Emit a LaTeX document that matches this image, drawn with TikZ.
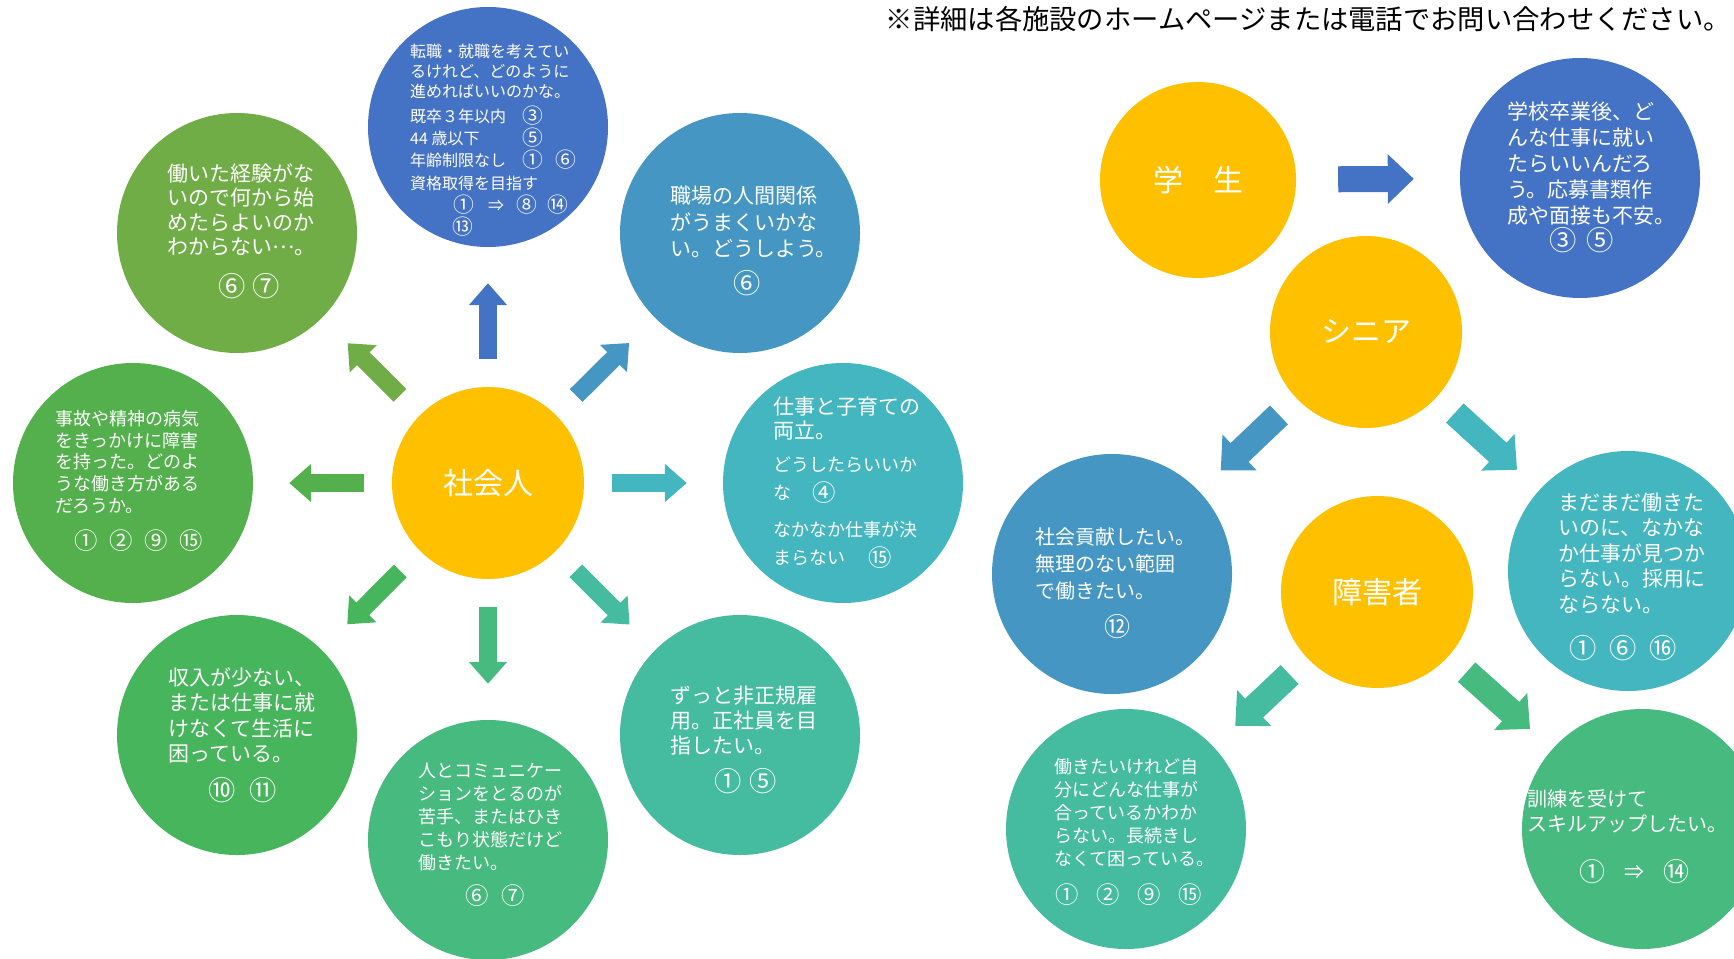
\documentclass[tikz,border=0pt]{standalone}
\usepackage{fontspec}
\setmainfont{Noto Sans CJK JP}
\usetikzlibrary{arrows.meta}
\definecolor{cYel}{HTML}{FFC000}
\definecolor{cBlue}{HTML}{4472C4}
\definecolor{cSky}{HTML}{4596C3}
\definecolor{cLeaf}{HTML}{70AD47}
\definecolor{cGrass}{HTML}{54B04C}
\definecolor{cGreen}{HTML}{47B55B}
\definecolor{cMint}{HTML}{47BA7F}
\definecolor{cSea}{HTML}{45BBA0}
\definecolor{cTeal}{HTML}{44B6BF}
\newcommand\jpfs[2]{\fontsize{#1pt}{#2pt}\selectfont}
\newcommand\cn[1]{\makebox[1em][c]{\raisebox{-0.1em}{\scalebox{1.3}{#1}}}}
\tikzset{
  hub/.style={circle, fill=cYel, minimum size=192pt, inner sep=0pt, text=white, font=\jpfs{30}{36}},
  bub/.style={circle, minimum size=240pt, inner sep=0pt},
  say/.style={text=white, align=left, anchor=west, inner sep=0pt},
  blk/.style={line width=18pt, -{Triangle[width=37pt,length=22pt]}, shorten <=28pt, shorten >=36pt},
  bigblk/.style={line width=26pt, -{Triangle[width=48pt,length=26pt]}, shorten <=24pt, shorten >=30pt},
}
\begin{document}
\begin{tikzpicture}[x=1pt,y=-1pt]
  \clip (0,0) rectangle (1734,958);
  % circles
  \foreach \n/\c/\x/\y in {tenshoku/cBlue/488/127, hataraku/cLeaf/237/233, shokuba/cSky/740/233,
      jiko/cGrass/133/483, shigoto/cTeal/843/483, shunyu/cGreen/237/735, hitoto/cMint/488/840,
      zutto/cSea/740/735, gakko/cBlue/1580/178, koken/cSky/1112/574, madamada/cTeal/1628/571,
      hatarakitai/cSea/1126/829, kunren/cMint/1642/829}
    \node[bub, fill=\c] (\n) at (\x,\y) {};
  \node[hub] (shakai) at (488,483) {社会人};
  \node[hub, minimum size=196pt] (gakusei) at (1198,180) {学　生};
  \node[hub] (senior) at (1366,332) {シニア};
  \node[hub] (shogai) at (1377,592) {障害者};
  % arrows
  \foreach \dst/\c in {tenshoku/cBlue, shokuba/cSky, shigoto/cTeal, zutto/cSea,
      hitoto/cMint, shunyu/cGreen, jiko/cGrass, hataraku/cLeaf}
    \draw[blk, \c] (shakai) -- (\dst);
  \draw[bigblk, cBlue, shorten <=42pt, shorten >=46pt] (gakusei) -- (gakko);
  \foreach \dst/\c in {koken/cSky, madamada/cTeal}
    \draw[bigblk, \c] (senior) -- (\dst);
  \foreach \dst/\c in {hatarakitai/cSea, kunren/cMint}
    \draw[bigblk, \c] (shogai) -- (\dst);
  % texts
  \node[say, font=\jpfs{16}{22}] (tenshokuT) at (410,140) {転職・就職を考えてい\\[-2pt]るけれど、どのように\\[-2pt]進めればいいのかな。\\[3pt]\makebox[115pt][l]{既卒３年以内}\cn{③}\\\makebox[115pt][l]{44 歳以下}\cn{⑤}\\\makebox[115pt][l]{年齢制限なし}\cn{①}\hspace{17pt}\cn{⑥}\\[1pt]資格取得を目指す\\\hspace*{46pt}\cn{①}\hspace{16pt}⇒\hspace{15pt}\cn{⑧}\hspace{15pt}\cn{⑭}\\\hspace*{45pt}\cn{⑬}};
  \node[say, font=\jpfs{21}{24.5}] (hatarakuT) at (167,231) {働いた経験がな\\いので何から始\\めたらよいのか\\わからない\raisebox{0.3em}{…}。\\[15pt]\hspace*{54pt}\cn{⑥}\hspace{13pt}\cn{⑦}};
  \node[say, font=\jpfs{21}{26.5}] (shokubaT) at (670,241) {職場の人間関係\\がうまくいかな\\い。どうしよう。\\[8pt]\hspace*{66pt}\cn{⑥}};
  \node[say, font=\jpfs{18}{21.7}] (jikoT) at (55,481) {事故や精神の病気\\をきっかけに障害\\を持った。どのよ\\うな働き方がある\\だろうか。\\[14pt]\hspace*{22pt}\cn{①}\hspace{17pt}\cn{②}\hspace{17pt}\cn{⑨}\hspace{17pt}\cn{⑮}};
  \node[say, font=\jpfs{18}{28}] (shigotoT) at (773,483) {{\jpfs{21}{26}仕事と子育ての}\\[-4pt]{\jpfs{21}{26}両立。}\\[5pt]どうしたらいいか\\な\hspace{24pt}\cn{④}\\[9pt]なかなか仕事が決\\まらない\hspace{26pt}\cn{⑮}};
  \node[say, font=\jpfs{21}{25.5}] (shunyuT) at (168,735) {収入が少ない、\\または仕事に就\\けなくて生活に\\困っている。\\[11pt]\hspace*{43pt}\cn{⑩}\hspace{20pt}\cn{⑪}};
  \node[say, font=\jpfs{18}{23}] (hitotoT) at (418,835) {人とコミュニケー\\ションをとるのが\\苦手、またはひき\\こもり状態だけど\\働きたい。\\[10pt]\hspace*{50pt}\cn{⑥}\hspace{18pt}\cn{⑦}};
  \node[say, font=\jpfs{21}{25}] (zuttoT) at (670,740) {ずっと非正規雇\\用。正社員を目\\指したい。\\[11pt]\hspace*{47pt}\cn{①}\hspace{14pt}\cn{⑤}};
  \node[say, font=\jpfs{21}{26}] (gakkoT) at (1507,177) {学校卒業後、ど\\んな仕事に就い\\たらいいんだろ\\う。応募書類作\\成や面接も不安。\\[-1pt]\hspace*{45pt}\cn{③}\hspace{16pt}\cn{⑤}};
  \node[say, font=\jpfs{20}{27}] (kokenT) at (1035,583) {社会貢献したい。\\無理のない範囲\\で働きたい。\\[9pt]\hspace*{72pt}\cn{⑫}};
  \node[say, font=\jpfs{21}{25.5}] (madamadaT) at (1558,577) {まだまだ働きた\\いのに、なかな\\か仕事が見つか\\らない。採用に\\ならない。\\[19pt]\hspace*{14pt}\cn{①}\hspace{19pt}\cn{⑥}\hspace{19pt}\cn{⑯}};
  \node[say, font=\jpfs{18}{23}] (hatarakitaiT) at (1054,832) {働きたいけれど自\\分にどんな仕事が\\合っているかわか\\らない。長続きし\\なくて困っている。\\[13pt]\hspace*{4pt}\cn{①}\hspace{23pt}\cn{②}\hspace{23pt}\cn{⑨}\hspace{23pt}\cn{⑮}};
  \node[say, font=\jpfs{20}{25}] (kunrenT) at (1527,837) {訓練を受けて\\スキルアップしたい。\\[23pt]\hspace*{55pt}\cn{①}\hspace{22pt}⇒\hspace{22pt}\cn{⑭}};
  \node[font=\jpfs{27.3}{32}, inner sep=0pt, anchor=east] (note) at (1731,19) {※詳細は各施設のホームページまたは電話でお問い合わせください。};
\end{tikzpicture}
\end{document}
